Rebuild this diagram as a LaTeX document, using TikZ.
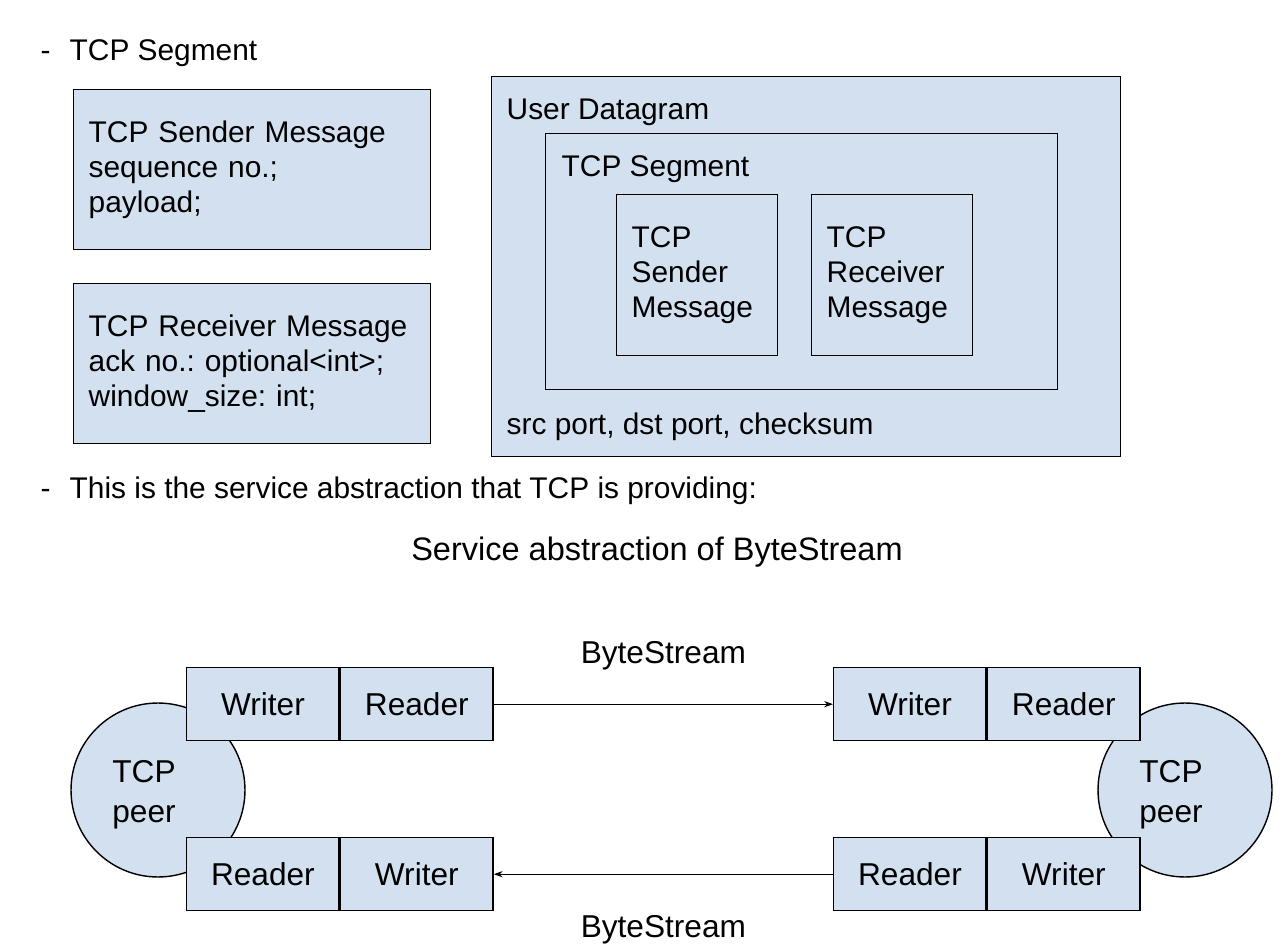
\documentclass[tikz,border=0pt]{standalone}
\usepackage{fontspec}
\setmainfont{Liberation Sans}
\usetikzlibrary{arrows.meta}
\definecolor{boxblue}{HTML}{D3E0EF}
\frenchspacing

\begin{document}
\begin{tikzpicture}[x=0.02cm, y=-0.02cm, line width=0.8pt,
    font=\fontsize{17}{20}\selectfont,
    txt/.style={anchor=base west, inner sep=0pt},
    box/.style={draw, fill=boxblue, inner sep=0pt},
    msg/.style={box, align=left, inner xsep=0.3cm, anchor=north west},
    word/.style={box, minimum width=3.05cm, minimum height=1.46cm, font=\fontsize{18}{21}\selectfont},
    peer/.style={circle, draw, fill=boxblue, minimum size=3.48cm, inner sep=0pt},
    flow/.style={-{Stealth[length=5pt, width=3.5pt]}, line width=0.6pt}]
    \useasboundingbox (0,0) rectangle (1284,952);

    % first bullet: the message types
    \node[txt] (dash1) at (40,61) {-};
    \node[txt] (head1) at (69,61) {TCP Segment};
    \node[msg, text width=6.54cm, minimum height=3.2cm] (sendmsg) at (73,89)
        {TCP Sender Message\\sequence no.;\\payload;};
    \node[msg, text width=6.54cm, minimum height=3.2cm] (recvmsg) at (73,283)
        {TCP Receiver Message\\ack no.: optional<int>;\\window\_size: int;};

    % nesting of the datagram
    \node[box, anchor=north west, minimum width=12.58cm, minimum height=7.6cm] (udp) at (491,76) {};
    \node[txt] (udplabel) at (506,120) {User Datagram};
    \node[txt] (udpfields) at (506,435) {src port, dst port, checksum};
    \node[box, anchor=north west, minimum width=10.24cm, minimum height=5.12cm] (seg) at (545,133) {};
    \node[txt] (seglabel) at (561,177) {TCP Segment};
    \node[msg, text width=2.62cm, minimum height=3.22cm] (sendbox) at (616,194)
        {TCP\\Sender\\Message};
    \node[msg, text width=2.62cm, minimum height=3.22cm] (recvbox) at (811,194)
        {TCP\\Receiver\\Message};

    % second bullet
    \node[txt] (dash2) at (40,499) {-};
    \node[txt] (head2) at (69,499) {This is the service abstraction that TCP is providing:};
    \node[anchor=base, inner sep=0pt, font=\fontsize{18.5}{22}\selectfont] (title) at (657,560)
        {Service abstraction of ByteStream};

    % peers behind the streams
    \node[peer] (lpeer) at (158,790) {};
    \node[align=center, font=\fontsize{18}{22.5}\selectfont] (lpeertxt) at ([xshift=-0.28cm, yshift=-0.1cm]lpeer.center) {TCP\\peer};
    \node[peer] (rpeer) at (1185,790) {};
    \node[align=center, font=\fontsize{18}{22.5}\selectfont] (rpeertxt) at ([xshift=-0.28cm, yshift=-0.1cm]rpeer.center) {TCP\\peer};

    \node[word, anchor=north west] (lw1) at (186,667) {Writer};
    \node[word, anchor=west] (lr1) at (lw1.east) {Reader};
    \node[word, anchor=north west] (lr2) at (186,837) {Reader};
    \node[word, anchor=west] (lw2) at (lr2.east) {Writer};
    \node[word, anchor=north west] (rw1) at (833,667) {Writer};
    \node[word, anchor=west] (rr1) at (rw1.east) {Reader};
    \node[word, anchor=north west] (rr2) at (833,837) {Reader};
    \node[word, anchor=west] (rw2) at (rr2.east) {Writer};

    \draw[flow] (lr1.east) -- node[midway, anchor=base, inner sep=0pt, yshift=0.82cm, font=\fontsize{18}{21}\selectfont] (bs1) {ByteStream} (rw1.west);
    \draw[flow] (rr2.west) -- node[midway, anchor=base, inner sep=0pt, yshift=-1.26cm, font=\fontsize{18}{21}\selectfont] (bs2) {ByteStream} (lw2.east);
\end{tikzpicture}
\end{document}
